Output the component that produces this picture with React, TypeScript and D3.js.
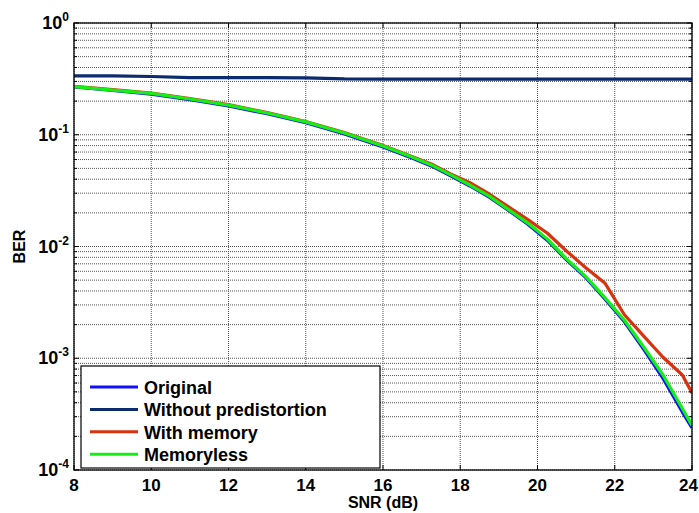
import React from 'react';
import * as d3 from 'd3';

// SNR grid (dB)
const snr = [8, 9, 10, 11, 12, 13, 14, 15, 16, 16.75, 17.25, 17.75, 18.25, 18.75, 19.25, 19.75, 20.25, 20.75, 21.25, 21.75, 22.25, 22.75, 23.25, 23.75, 24];

const original = [0.268, 0.249, 0.231, 0.206, 0.181, 0.154, 0.128, 0.1015, 0.0778, 0.0618, 0.0526, 0.0428, 0.0348, 0.0276, 0.021, 0.0158, 0.0114, 0.0076, 0.00527, 0.00338, 0.00212, 0.0012, 0.00066, 0.00033, 0.000238];
const withoutPredistortion = [0.337, 0.336, 0.332, 0.324, 0.324, 0.324, 0.323, 0.316, 0.315, 0.315, 0.315, 0.315, 0.315, 0.315, 0.315, 0.315, 0.315, 0.315, 0.315, 0.315, 0.315, 0.315, 0.315, 0.315, 0.315];
const withMemory = [0.271, 0.253, 0.236, 0.211, 0.186, 0.158, 0.1315, 0.1045, 0.0802, 0.064, 0.0548, 0.0447, 0.0372, 0.0295, 0.0226, 0.0174, 0.0132, 0.00912, 0.00646, 0.00468, 0.00245, 0.00158, 0.00102, 0.000708, 0.00049];
const memoryless = [0.2692, 0.2512, 0.2344, 0.2089, 0.1841, 0.1567, 0.1303, 0.1035, 0.0794, 0.0631, 0.0537, 0.0437, 0.0355, 0.0282, 0.0214, 0.0162, 0.0117, 0.00776, 0.00537, 0.00347, 0.00219, 0.00126, 0.000708, 0.000355, 0.000251];

const xTicks = [8, 10, 12, 14, 16, 18, 20, 22, 24];
const yExponents = [-4, -3, -2, -1, 0];

const seriesList = [
  { name: 'Original', values: original, color: '#1010ff' },
  { name: 'Without predistortion', values: withoutPredistortion, color: '#0c2a6e' },
  { name: 'With memory', values: withMemory, color: '#d8330e' },
  { name: 'Memoryless', values: memoryless, color: '#14f014' },
];

const W = 699, H = 513;
const left = 74, right = 692, top = 23, bottom = 470;
const font = '"Liberation Sans", Arial, sans-serif';

export default function App() {
  const x = d3.scaleLinear().domain([8, 24]).range([left, right]);
  const y = d3.scaleLog().domain([1e-4, 1]).range([bottom, top]);

  // minor values for log grid
  const minors: number[] = [];
  for (let e = -4; e < 0; e++) {
    for (let m = 2; m <= 9; m++) minors.push(m * Math.pow(10, e));
  }

  const line = d3.line<[number, number]>()
    .x(d => x(d[0]))
    .y(d => y(d[1]));

  const gridStyle = { stroke: '#555', strokeWidth: 1, strokeDasharray: '1,1' };

  const legX = 81, legY = 366, legW = 299, legH = 102;

  return (
    <svg width={W} height={H} style={{ position: 'absolute', left: 0, top: 0, background: '#fff' }} fontFamily={font}>
      <defs>
        <clipPath id="plotClip">
          <rect x={left} y={top} width={right - left} height={bottom - top} />
        </clipPath>
      </defs>
      <rect x={0} y={0} width={W} height={H} fill="#fff" />

      {/* grid */}
      {minors.map(v => (
        <line key={'mg' + v} x1={left} x2={right} y1={y(v)} y2={y(v)} {...gridStyle} />
      ))}
      {yExponents.map(e => (
        <line key={'yg' + e} x1={left} x2={right} y1={y(Math.pow(10, e))} y2={y(Math.pow(10, e))} {...gridStyle} />
      ))}
      {xTicks.map(t => (
        <line key={'xg' + t} x1={x(t)} x2={x(t)} y1={top} y2={bottom} {...gridStyle} />
      ))}

      {/* series */}
      <g clipPath="url(#plotClip)">
        {seriesList.map(s => (
          <path key={s.name} d={line(snr.map((v, i) => [v, s.values[i]] as [number, number])) || ''}
            fill="none" stroke={s.color} strokeWidth={3.2} strokeLinejoin="round" />
        ))}
      </g>

      {/* axes box */}
      <rect x={left} y={top} width={right - left} height={bottom - top} fill="none" stroke="#000" strokeWidth={1.3} />

      {/* ticks */}
      {xTicks.map(t => {
        const last = t === 24;
        return (
          <g key={'xt' + t}>
            <line x1={x(t)} x2={x(t)} y1={bottom} y2={bottom - 5} stroke="#000" />
            <line x1={x(t)} x2={x(t)} y1={top} y2={top + 5} stroke="#000" />
            <text x={last ? W - 1 : x(t)} y={bottom + 21} textAnchor={last ? 'end' : 'middle'}
              fontSize={17} fontWeight="bold">{t}</text>
          </g>
        );
      })}
      {minors.map(v => (
        <g key={'mt' + v}>
          <line x1={left} x2={left + 3} y1={y(v)} y2={y(v)} stroke="#000" />
          <line x1={right} x2={right - 3} y1={y(v)} y2={y(v)} stroke="#000" />
        </g>
      ))}
      {yExponents.map(e => {
        const yy = y(Math.pow(10, e));
        return (
          <g key={'yt' + e}>
            <line x1={left} x2={left + 5} y1={yy} y2={yy} stroke="#000" />
            <line x1={right} x2={right - 5} y1={yy} y2={yy} stroke="#000" />
            <text x={left - 5} y={yy + 6} textAnchor="end" fontWeight="bold">
              <tspan fontSize={18}>10</tspan>
              <tspan fontSize={12} dy={-8}>{e}</tspan>
            </text>
          </g>
        );
      })}

      {/* axis labels */}
      <text x={(left + right) / 2} y={508} textAnchor="middle" fontSize={16} fontWeight="bold">SNR (dB)</text>
      <text transform={`translate(25, ${(top + bottom) / 2}) rotate(-90)`} textAnchor="middle" fontSize={16} fontWeight="bold">BER</text>

      {/* legend */}
      <rect x={legX} y={legY} width={legW} height={legH} fill="#fff" stroke="#000" strokeWidth={1.2} />
      {seriesList.map((s, i) => {
        const ry = legY + 21 + i * 22.4;
        return (
          <g key={'lg' + s.name}>
            <line x1={90} x2={138} y1={ry} y2={ry} stroke={s.color} strokeWidth={3} />
            <text x={144} y={ry + 7} fontSize={18} fontWeight="bold">{s.name}</text>
          </g>
        );
      })}
    </svg>
  );
}
